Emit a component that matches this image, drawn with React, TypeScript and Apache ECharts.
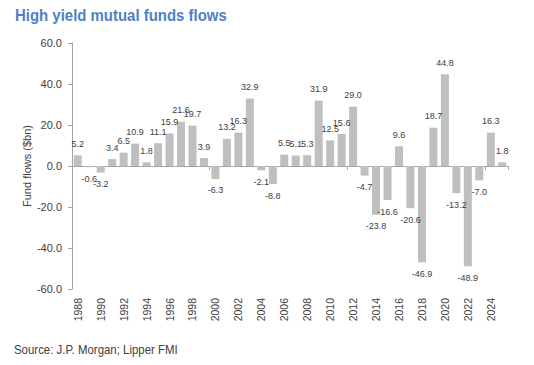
import React, { useEffect, useRef } from "react";
import * as echarts from "echarts";

const years: string[] = [
  "1988","1989","1990","1991","1992","1993","1994","1995","1996","1997",
  "1998","1999","2000","2001","2002","2003","2004","2005","2006","2007",
  "2008","2009","2010","2011","2012","2013","2014","2015","2016","2017",
  "2018","2019","2020","2021","2022","2023","2024","2025",
];
const flows: number[] = [
  5.2, -0.6, -3.2, 3.4, 6.5, 10.9, 1.8, 11.1, 15.9, 21.6,
  19.7, 3.9, -6.3, 13.2, 16.3, 32.9, -2.1, -8.8, 5.5, 5.1,
  5.3, 31.9, 12.5, 15.6, 29.0, -4.7, -23.8, -16.6, 9.6, -20.6,
  -46.9, 18.7, 44.8, -13.2, -48.9, -7.0, 16.3, 1.8,
];
const titleText = "High yield mutual funds flows";
const sourceText = "Source: J.P. Morgan; Lipper FMI";
const yAxisName = "Fund flows ($bn)";

const SANS = '"Liberation Sans", Arial, sans-serif';

export default function App() {
  const ref = useRef<HTMLDivElement>(null);
  useEffect(() => {
    if (!ref.current) return;
    const chart = echarts.init(ref.current, undefined, { renderer: "svg" });
    chart.setOption({
      animation: false,
      backgroundColor: "#ffffff",
      grid: { left: 72, right: 26, top: 43, bottom: 76, containLabel: false },
      graphic: [
        {
          type: "text",
          x: 15,
          y: 15,
          scaleX: 0.88,
          style: {
            text: titleText,
            fontFamily: SANS,
            fontSize: 17,
            fontWeight: "bold",
            fill: "#4f81c3",
            textVerticalAlign: "middle",
          },
        },
        {
          type: "text",
          x: 14,
          y: 350,
          scaleX: 0.88,
          style: {
            text: sourceText,
            fontFamily: SANS,
            fontSize: 13,
            fill: "#404040",
            textVerticalAlign: "middle",
          },
        },
      ],
      xAxis: [
        {
          type: "category",
          data: years,
          position: "bottom",
          axisLine: { show: false, onZero: false },
          axisTick: { show: false },
          axisLabel: {
            rotate: 90,
            interval: 1,
            fontSize: 10.5,
            fontFamily: SANS,
            color: "#404040",
            margin: 9,
          },
        },
        {
          type: "category",
          data: years,
          position: "top",
          axisLine: { show: true, onZero: true, lineStyle: { color: "#a6a6a6", width: 1 } },
          axisTick: { show: true, inside: true, interval: 11, length: 4, lineStyle: { color: "#a6a6a6" } },
          axisLabel: { show: false },
        },
      ],
      yAxis: {
        type: "value",
        min: -60,
        max: 60,
        interval: 20,
        name: yAxisName,
        nameLocation: "middle",
        nameGap: 40,
        nameMoveOverlap: false,
        nameTextStyle: { fontSize: 11, fontFamily: SANS, color: "#404040" },
        axisLine: { show: true, lineStyle: { color: "#a6a6a6", width: 1 } },
        axisTick: { show: true, length: 4, lineStyle: { color: "#a6a6a6" } },
        splitLine: { show: false },
        axisLabel: {
          formatter: (v: number) => v.toFixed(1),
          fontSize: 11,
          fontFamily: SANS,
          color: "#404040",
          margin: 10,
        },
      },
      series: [
        {
          type: "bar",
          xAxisIndex: 0,
          barWidth: 8,
          itemStyle: { color: "#bfbfbf" },
          data: flows.map((v) => ({
            value: v,
            label: { position: v >= 0 ? "top" : "bottom" },
          })),
          label: {
            show: true,
            distance: 7,
            fontSize: 9,
            fontFamily: SANS,
            color: "#404040",
            formatter: (p: any) => Number(p.value).toFixed(1),
          },
        },
      ],
    });
    return () => chart.dispose();
  }, []);
  return (
    <div
      ref={ref}
      style={{ position: "absolute", left: 0, top: 0, width: 534, height: 365 }}
    />
  );
}
